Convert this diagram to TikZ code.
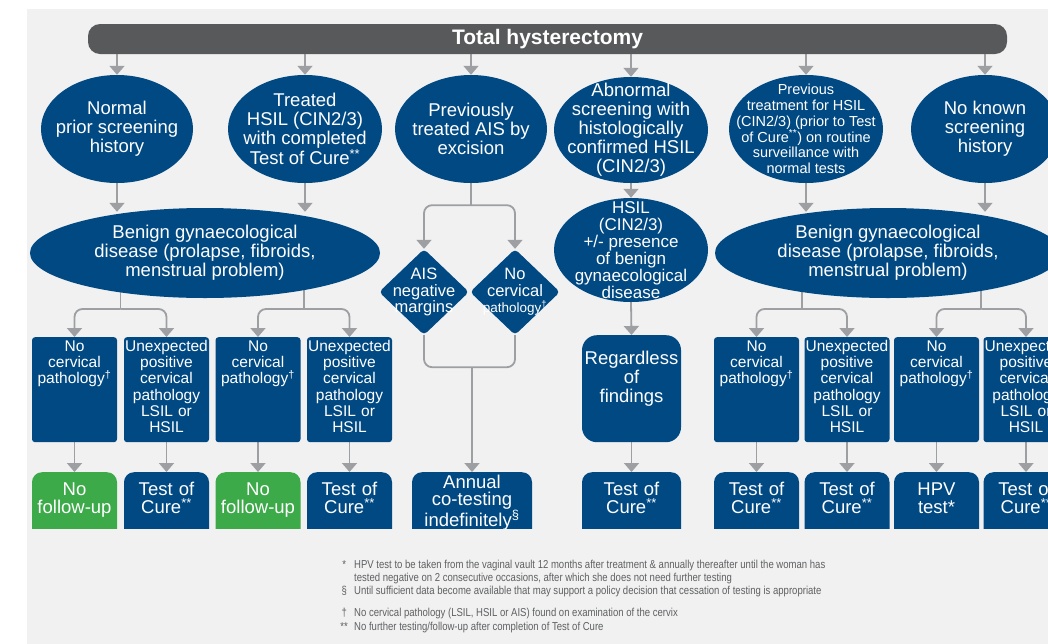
\documentclass[tikz,border=0pt]{standalone}
\usepackage{fontspec}
\setmainfont{Liberation Sans}
\newfontfamily\notefont[FakeStretch=0.83]{Liberation Sans}
\usetikzlibrary{shapes.geometric, arrows.meta, calc, backgrounds}

\definecolor{hblue}{RGB}{0,73,131}
\definecolor{hgreen}{RGB}{61,170,73}
\definecolor{hbar}{RGB}{88,89,91}
\definecolor{hline}{RGB}{157,159,162}
\definecolor{hbg}{RGB}{241,241,241}
\definecolor{hnote}{RGB}{95,96,98}

\newcommand\ellsize{\fontsize{18.5}{19}\selectfont}
\newcommand\boxsize{\fontsize{15.5}{16.3}\selectfont}
\newcommand\lastsize{\fontsize{18.5}{18.5}\selectfont}
\newcommand\diasize{\fontsize{16.5}{16.7}\selectfont}
\newcommand\notesize{\notefont\fontsize{11.5}{13}\selectfont}
\newcommand\fnmark[1]{\makebox[10pt][c]{#1}\hspace{5pt}}
\newcommand\tcure{Cure\textsuperscript{**}}

\begin{document}
\begin{tikzpicture}[x=1pt, y=-1pt,
  ell/.style={ellipse, fill=hblue, text=white, inner sep=-30pt, align=center, font=\ellsize},
  dia/.style={diamond, fill=hblue, text=white, inner sep=-30pt, minimum width=90pt,
    minimum height=86pt, rounded corners=4pt, align=center, font=\diasize},
  pbox/.style={rectangle, fill=hblue, text=white, rounded corners=3pt, text width=85pt,
    inner sep=0pt, align=center, font=\boxsize, text height=14pt, text depth=91pt, anchor=north},
  ebox/.style={rectangle, fill=hblue, text=white, rounded corners=10pt, text width=85pt,
    inner sep=0pt, align=center, font=\lastsize, text height=23pt, text depth=53pt, anchor=north},
  conn/.style={draw=hline, line width=1.8pt},
  conarr/.style={conn, -{Triangle[width=15pt,length=9pt]}},
  fnote/.style={anchor=base west, inner sep=0pt, text=hnote, font=\notesize},
]
\useasboundingbox (0,0) rectangle (1048,643);
\clip (0,0) rectangle (1048,643);
\begin{scope}[on background layer]
\fill[hbg] (27,9) rectangle (1060,660);
\end{scope}

\node[fill=hbar, rounded corners=12pt, minimum width=919pt, minimum height=30pt, inner sep=0pt,
  text=white, font=\bfseries\fontsize{21}{22}\selectfont] (top) at (547.5,39) {Total hysterectomy};

% first row
\node[ell, minimum width=152pt, minimum height=108pt] (e1) at (117,129) {Normal\\prior screening\\history};
\node[ell, minimum width=154pt, minimum height=108pt] (e2) at (305,129) {Treated\\HSIL (CIN2/3)\\with completed\\Test of \tcure};
\node[ell, minimum width=152pt, minimum height=108pt] (e3) at (471,129) {Previously\\treated AIS by\\excision};
\node[ell, minimum width=154pt, minimum height=106pt] (e4) at (631,130) {Abnormal\\screening with\\histologically\\confirmed HSIL\\(CIN2/3)};
\node[ell, minimum width=154pt, minimum height=108pt, font=\fontsize{14.5}{15.7}\selectfont] (e5) at (806,129)
  {Previous\\treatment for HSIL\\(CIN2/3) (prior to Test\\of \tcure) on routine\\surveillance with\\normal tests};
\node[ell, minimum width=148pt, minimum height=108pt] (e6) at (985,129) {No known\\screening\\history};

% second row
\node[ell, minimum width=350pt, minimum height=90pt] (b1) at (205,253)
  {Benign gynaecological\\disease (prolapse, fibroids,\\menstrual problem)};
\node[ell, minimum width=346pt, minimum height=90pt] (b2) at (888,253)
  {Benign gynaecological\\disease (prolapse, fibroids,\\menstrual problem)};
\node[ell, minimum width=154pt, minimum height=104pt, font=\fontsize{17}{17}\selectfont] (h1) at (631,250)
  {HSIL\\(CIN2/3)\\+/- presence\\of benign\\gynaecological\\disease};
\node[dia] (d1) at (424,292) {AIS\\negative\\margins};
\node[dia] (d2) at (515,292) {No\\cervical\\{\fontsize{13.5}{14}\selectfont pathology\textsuperscript{†}}};

% third row
\node[pbox] (n1) at (74.5,337) {No\\cervical\\pathology\textsuperscript{†}};
\node[pbox] (u1) at (166.5,337) {Unexpected\\positive\\cervical\\pathology\\LSIL or\\HSIL};
\node[pbox] (n2) at (258,337) {No\\cervical\\pathology\textsuperscript{†}};
\node[pbox] (u2) at (349.5,337) {Unexpected\\positive\\cervical\\pathology\\LSIL or\\HSIL};
\node[pbox] (n3) at (756.5,337) {No\\cervical\\pathology\textsuperscript{†}};
\node[pbox] (u3) at (847,337) {Unexpected\\positive\\cervical\\pathology\\LSIL or\\HSIL};
\node[pbox] (n4) at (936.5,337) {No\\cervical\\pathology\textsuperscript{†}};
\node[pbox] (u4) at (1026,337) {Unexpected\\positive\\cervical\\pathology\\LSIL or\\HSIL};
\node[pbox, text width=99pt, rounded corners=15pt, text height=29pt, text depth=78pt, font=\ellsize]
  (reg) at (631.5,335) {Regardless\\of\\findings};

% last row, cut off at the bottom
\begin{scope}
\clip (0,0) rectangle (1048,528);
\node[ebox, fill=hgreen] (f1) at (74.5,472) {No\\follow-up};
\node[ebox] (c1) at (166.5,472) {Test of\\\tcure};
\node[ebox, fill=hgreen] (f2) at (258,472) {No\\follow-up};
\node[ebox] (c2) at (349.5,472) {Test of\\\tcure};
\node[ebox, text width=120pt, text height=16pt, text depth=60pt, font=\fontsize{18.5}{17.5}\selectfont]
  (ann) at (472,472) {Annual\\co-testing\\indefinitely\textsuperscript{§}};
\node[ebox, text width=99pt] (c6) at (631.5,472) {Test of\\\tcure};
\node[ebox] (c3) at (756.5,472) {Test of\\\tcure};
\node[ebox] (c4) at (847,472) {Test of\\\tcure};
\node[ebox] (hpv) at (936.5,472) {HPV\\test*};
\node[ebox] (c5) at (1026,472) {Test of\\\tcure};
\end{scope}

% footnotes
\node[fnote] (fn1) at (339,568) {\fnmark{*}HPV test to be taken from the vaginal vault 12 months after treatment \& annually thereafter until the woman has};
\node[fnote] (fn2) at (354,581) {tested negative on 2 consecutive occasions, after which she does not need further testing};
\node[fnote] (fn3) at (339,594) {\fnmark{§}Until sufficient data become available that may support a policy decision that cessation of testing is appropriate};
\node[fnote] (fn4) at (339,616) {\fnmark{†}No cervical pathology (LSIL, HSIL or AIS) found on examination of the cervix};
\node[fnote] (fn5) at (339,630) {\fnmark{**}No further testing/follow-up after completion of Test of Cure};

\begin{scope}[on background layer]
\foreach \e in {e1,e2,e3,e4,e5,e6}
  \draw[conarr] (top.south -| \e.north) -- (\e.north);
\draw[conarr, shorten >=-4pt] (e1.south) -- (e1.south |- b1.north);
\draw[conarr, shorten >=-4pt] (e2.south) -- (e2.south |- b1.north);
\draw[conarr, shorten >=-4pt] (e5.south) -- (e5.south |- b2.north);
\draw[conarr, shorten >=-4pt] (e6.south) -- (e6.south |- b2.north);
\draw[conarr] (e4.south) -- (h1.north);
\draw[conarr] (h1.south) -- (reg.north);

\draw[conn] (e3.south) -- ++(0,22) coordinate (ja);
\draw[conarr, rounded corners=8pt] (ja) -| (d1.north);
\draw[conarr, rounded corners=8pt] (ja) -| (d2.north);
\path (d1.south) ++(0,32) coordinate (jb);
\draw[conn, rounded corners=8pt] (d1.south) |- (jb -| d2.south) -- (d2.south);
\draw[conarr] (jb -| ann.north) -- (ann.north);

\foreach \a/\b/\c in {n1/u1/b1, n2/u2/b1, n3/u3/b2, n4/u4/b2} {
  \coordinate (j) at ($(\a.north)!.5!(\b.north)+(0,-28)$);
  \draw[conn] (\c.center -| j) -- (j);
  \draw[conarr, rounded corners=8pt] (j) -| (\a.north);
  \draw[conarr, rounded corners=8pt] (j) -| (\b.north);
}
\foreach \a/\b in {n1/f1, u1/c1, n2/f2, u2/c2, n3/c3, u3/c4, n4/hpv, u4/c5, reg/c6}
  \draw[conarr] (\a.south) -- (\b.north);
\end{scope}
\end{tikzpicture}
\end{document}
